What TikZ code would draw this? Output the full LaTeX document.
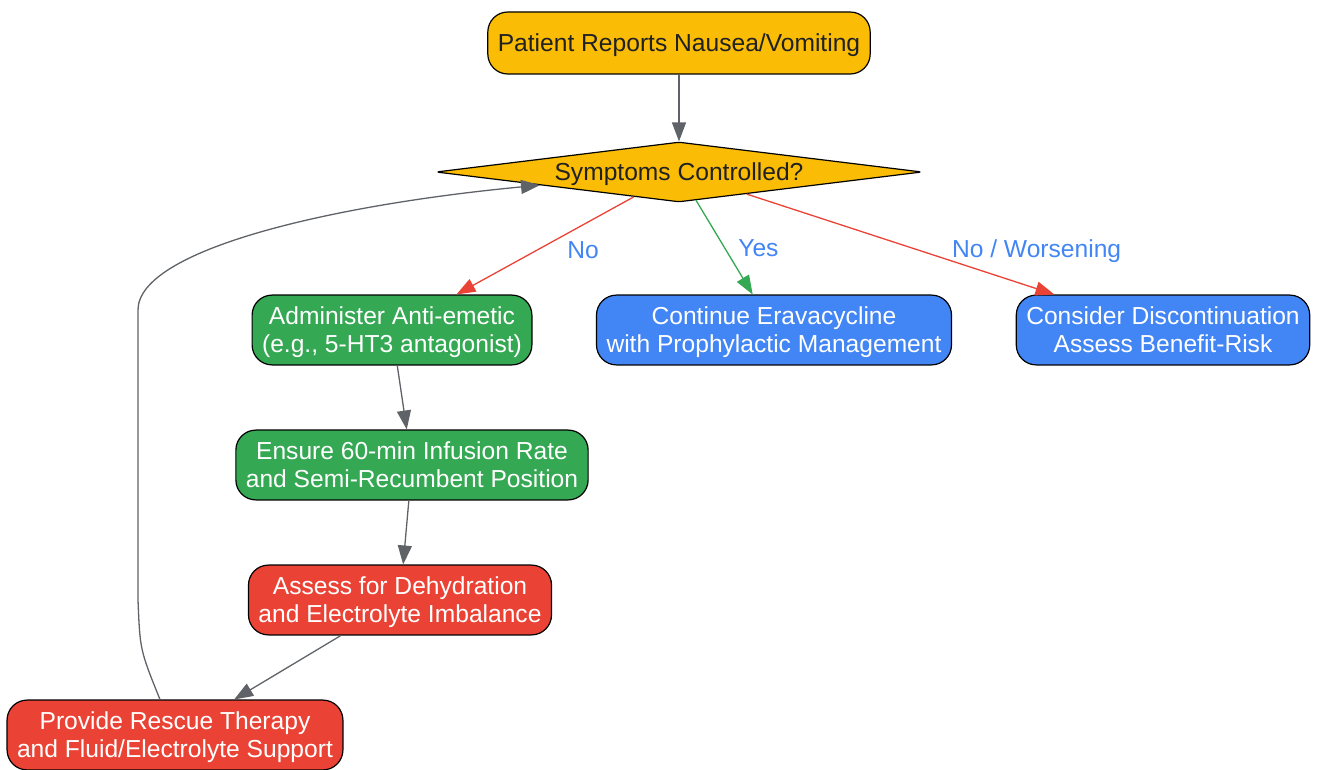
\documentclass[tikz,border=0pt]{standalone}
\usepackage{fontspec}
\setmainfont{Liberation Sans}
\usetikzlibrary{shapes.geometric,arrows.meta}
\definecolor{gyellow}{HTML}{FBBC05}
\definecolor{ggreen}{HTML}{34A853}
\definecolor{gblue}{HTML}{4285F4}
\definecolor{gred}{HTML}{EA4335}
\definecolor{ggray}{HTML}{5F6368}
\definecolor{gdark}{HTML}{202124}
\begin{document}
\begin{tikzpicture}[x=1pt,y=-1pt,line join=round,font=\fontsize{24.6}{28}\selectfont,
	box/.style={draw=black,line width=1.2pt,rounded corners=20pt,align=center,inner xsep=10pt,inner ysep=12pt,text depth=0pt,minimum height=62pt,text=white},
	decision/.style={draw=black,line width=1.2pt,diamond,shape aspect=8,rounded corners=3pt,fill=gyellow,text=gdark,inner sep=0pt,text depth=0pt,minimum width=486pt,minimum height=60pt},
	flow/.style={-{Triangle[length=19pt,width=14pt]},line width=1.3pt,draw=ggray,fill=none},
	lbl/.style={text=gblue,text depth=0pt}]
			\useasboundingbox (0,0) rectangle (1317,770);
			\node[box,fill=gyellow,text=gdark] (start) at (679,43) {Patient Reports Nausea/Vomiting};
			\node[decision] (dec) at (679,172) {Symptoms Controlled?};
			\node[box,fill=ggreen] (anti) at (392,330) {Administer Anti-emetic\\(e.g., 5-HT3 antagonist)};
			\node[box,fill=gblue] (cont) at (774,330) {Continue Eravacycline\\with Prophylactic Management};
			\node[box,fill=gblue] (disc) at (1163,330) {Consider Discontinuation\\Assess Benefit-Risk};
			\node[box,fill=ggreen] (ensure) at (412,465) {Ensure 60-min Infusion Rate\\and Semi-Recumbent Position};
			\node[box,fill=gred] (assess) at (400,600) {Assess for Dehydration\\and Electrolyte Imbalance};
			\node[box,fill=gred] (rescue) at (175,735) {Provide Rescue Therapy\\and Fluid/Electrolyte Support};
			\draw[flow] (start)--(dec);
			\draw[flow,draw=gred] (dec)--(anti) node[lbl,pos=0.5,xshift=38pt,yshift=-4pt]{No};
			\draw[flow,draw=ggreen] (dec)--(cont) node[lbl,pos=0.5,xshift=34pt,yshift=-1pt]{Yes};
			\draw[flow,draw=gred] (dec)--(disc) node[lbl,pos=0.5,xshift=136pt,yshift=-4pt]{No / Worsening};
			\draw[flow] (anti)--(ensure);
			\draw[flow] (ensure)--(assess);
			\draw[flow] (assess)--(rescue);
			\draw[flow] ([xshift=-15pt]rescue.north) .. controls (140,650) .. (138,600) -- (138,310)
				.. controls (138,250) and (330,205) .. (dec);
			\end{tikzpicture}
\end{document}
